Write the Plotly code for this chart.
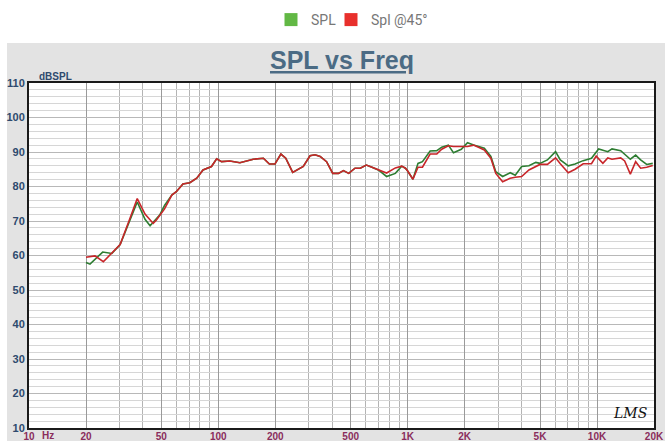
import plotly.graph_objects as go

# ---- data ----
spl_freq = [20, 21, 24.5, 27.4, 30.3, 34, 37.3, 41, 43.6, 49, 52, 56.8, 60, 65, 70.7, 76.9, 83, 92, 98,
            104, 115, 130, 153, 173, 186, 199, 214, 227, 247, 281, 305, 324, 345, 373, 402, 431, 458,
            488, 527, 562, 605, 648, 700, 774, 861, 930, 973, 1000, 1066, 1134, 1197, 1314, 1425, 1513,
            1640, 1745, 1920, 2070, 2230, 2540, 2750, 2920, 3174, 3480, 3700, 4000, 4370, 4750, 5000,
            5470, 6040, 6400, 7050, 7660, 8450, 9350, 10200, 11400, 12000, 13340, 14000, 15000, 16000,
            17000, 18300, 19700]
spl_db = [58.0, 57.5, 61.0, 60.6, 63.2, 70.0, 75.5, 70.5, 68.6, 71.7, 74.5, 77.5, 78.5, 80.7, 81.1, 82.4,
          84.8, 85.8, 88.0, 87.2, 87.4, 86.9, 87.9, 88.2, 86.5, 86.5, 89.4, 88.2, 84.1, 85.8, 88.9, 89.2,
          88.7, 87.2, 83.8, 83.8, 84.6, 83.8, 85.3, 85.3, 86.2, 85.6, 84.8, 82.9, 83.8, 85.9, 85.3, 84.5,
          82.1, 86.7, 87.2, 90.3, 90.4, 91.4, 92.0, 89.8, 90.8, 92.7, 92.0, 91.1, 88.7, 84.3, 82.9, 84.0,
          83.3, 85.8, 86.0, 87.0, 86.7, 87.7, 90.1, 87.7, 86.0, 86.5, 87.5, 88.2, 90.9, 90.1, 90.9, 90.4,
          89.4, 87.9, 89.1, 87.7, 86.4, 86.7]

s45_freq = [20, 22.3, 24.7, 27.4, 30.3, 34, 37.3, 41, 45.3, 47, 52, 56.8, 60, 65, 70.7, 76.9, 83, 92, 98,
            104, 115, 130, 153, 173, 186, 199, 214, 227, 247, 281, 305, 324, 345, 373, 402, 431, 458,
            488, 527, 562, 605, 648, 700, 774, 861, 930, 973, 1000, 1066, 1134, 1197, 1314, 1425, 1513,
            1640, 1745, 1920, 2070, 2230, 2540, 2750, 2920, 3174, 3480, 3700, 4000, 4370, 4750, 5000,
            5470, 6040, 6400, 7050, 7660, 8450, 9350, 9900, 10740, 11400, 12000, 13340, 14000, 15000,
            16000, 17000, 18300, 19700]
s45_db = [59.5, 59.9, 58.2, 60.6, 63.2, 70.5, 76.5, 72.0, 69.3, 70.2, 73.5, 77.5, 78.5, 80.7, 81.1, 82.4,
          84.8, 85.8, 88.0, 87.2, 87.4, 86.9, 87.9, 88.2, 86.5, 86.5, 89.4, 88.2, 84.1, 85.8, 88.9, 89.2,
          88.7, 87.2, 83.8, 83.8, 84.6, 83.8, 85.3, 85.3, 86.2, 85.6, 84.8, 83.9, 85.4, 85.9, 85.3, 84.5,
          82.1, 85.6, 85.6, 89.4, 89.4, 90.8, 91.8, 91.6, 91.6, 91.6, 92.0, 90.6, 88.2, 83.8, 81.4, 82.4,
          82.7, 82.9, 84.8, 85.9, 86.4, 86.4, 88.3, 86.6, 84.0, 85.0, 86.6, 86.6, 88.8, 86.7, 88.3, 87.9,
          88.3, 87.4, 83.6, 87.2, 85.3, 85.6, 86.1]

x_tick_vals = [10, 20, 50, 100, 200, 500, 1000, 2000, 5000, 10000, 20000]
x_tick_text = ["10", "20", "50", "100", "200", "500", "1K", "2K", "5K", "10K", "20K"]
y_tick_vals = [10, 20, 30, 40, 50, 60, 70, 80, 90, 100, 110]

series_names = ["SPL", "Spl @45°"]
line_colors = ["#2e7d32", "#c8262a"]
legend_colors = ["#62b845", "#e8302c"]

# grid positions (1..9 per decade)
x_minor = [m * 10 ** d for d in range(1, 5) for m in range(1, 10) if m * 10 ** d <= 20000]

fig = go.Figure()

line_traces = []
legend_traces = []
for i, (name, fx, fy, lc, lg) in enumerate(
        [(series_names[0], spl_freq, spl_db, line_colors[0], legend_colors[0]),
         (series_names[1], s45_freq, s45_db, line_colors[1], legend_colors[1])]):
    line_traces.append(go.Scatter(x=fx, y=fy, mode="lines", line=dict(color=lc, width=1.6),
                                  showlegend=False, hoverinfo="x+y"))
    legend_traces.append(go.Scatter(x=[None], y=[None], mode="markers", name=name,
                                    legend="legend" if i == 0 else "legend2",
                                    marker=dict(symbol="square", size=13, color=lg)))
for t in line_traces + legend_traces:
    fig.add_trace(t)

L, R, T, B = 29, 11, 83, 13
W, H = 665, 441
pw, ph = W - L - R, H - T - B

leg_common = dict(orientation="h", xref="container", yref="container", xanchor="left",
                  y=1 - 20 / H, yanchor="middle",
                  font=dict(family="Roboto", size=14, color="#777777"),
                  itemwidth=30, tracegroupgap=0, bgcolor="rgba(0,0,0,0)")

fig.update_layout(
    width=W, height=H,
    margin=dict(l=L, r=R, t=T, b=B, pad=0, autoexpand=False),
    paper_bgcolor="white",
    plot_bgcolor="rgba(0,0,0,0)",
    showlegend=True,
    legend=dict(x=(290 - 19) / W, **leg_common),
    legend2=dict(x=(350 - 19) / W, **leg_common),
    xaxis=dict(type="log", range=[1, 4.30103], tickmode="array", tickvals=x_tick_vals,
               ticktext=x_tick_text, showgrid=True, gridcolor="#9a9a9a", gridwidth=1,
               minor=dict(tickmode="array", tickvals=x_minor, showgrid=True, gridcolor="#b4b4b4",
                          gridwidth=1, ticks=""),
               showline=True, linecolor="#1a1a1a", linewidth=2, mirror=True, ticks="",
               ticklabelstandoff=-2,
               tickfont=dict(family="Arial", size=10, color="#8a2d5c", weight="bold"),
               zeroline=False, automargin=False),
    yaxis=dict(range=[10, 110], tickmode="array", tickvals=y_tick_vals, showgrid=True,
               gridcolor="#b8b8b8", gridwidth=1,
               minor=dict(dtick=2, showgrid=True, gridcolor="#d6d6d6", gridwidth=1, ticks=""),
               showline=True, linecolor="#1a1a1a", linewidth=2, mirror=True, ticks="",
               tickfont=dict(family="Arial", size=11, color="#2e4a6e", weight="bold"),
               zeroline=False, automargin=False),
    shapes=[
        dict(type="rect", xref="paper", yref="paper", x0=(7 - L) / pw, x1=(W - L) / pw + 0.01,
             y0=-(B + 5) / ph, y1=(H - B - 43) / ph, fillcolor="#e3e3e3", line=dict(width=0),
             layer="below"),
        dict(type="rect", xref="paper", yref="paper", x0=0, x1=1, y0=0, y1=1,
             fillcolor="white", line=dict(width=0), layer="below"),
    ],
    annotations=[
        dict(text="<b><u>SPL vs Freq</u></b>", xref="paper", yref="paper", x=(342 - L) / pw,
             y=(H - B - 60) / ph, xanchor="center", yanchor="middle", showarrow=False,
             font=dict(family="Arial", size=25, color="#4b6b84")),
        dict(text="<b>dBSPL</b>", xref="paper", yref="paper", x=(37 - L) / pw, y=(H - B - 76) / ph,
             xanchor="left", yanchor="middle", showarrow=False,
             font=dict(family="Arial", size=10, color="#2e4a6e")),
        dict(text="<b>Hz</b>", xref="paper", yref="paper", x=(40 - L) / pw, y=-(435 - (H - B)) / ph,
             xanchor="left", yanchor="middle", showarrow=False,
             font=dict(family="Arial", size=10, color="#8a2d5c")),
        dict(text="<i>LMS</i>", xref="paper", yref="paper", x=(630 - L) / pw, y=(H - B - 413) / ph,
             xanchor="center", yanchor="middle", showarrow=False,
             font=dict(family="DejaVu Serif", size=14, color="#111111")),
    ],
)

fig.write_html("out.html", config={"displayModeBar": False},
               post_script="document.body.style.margin='0';document.body.style.overflow='hidden';")
